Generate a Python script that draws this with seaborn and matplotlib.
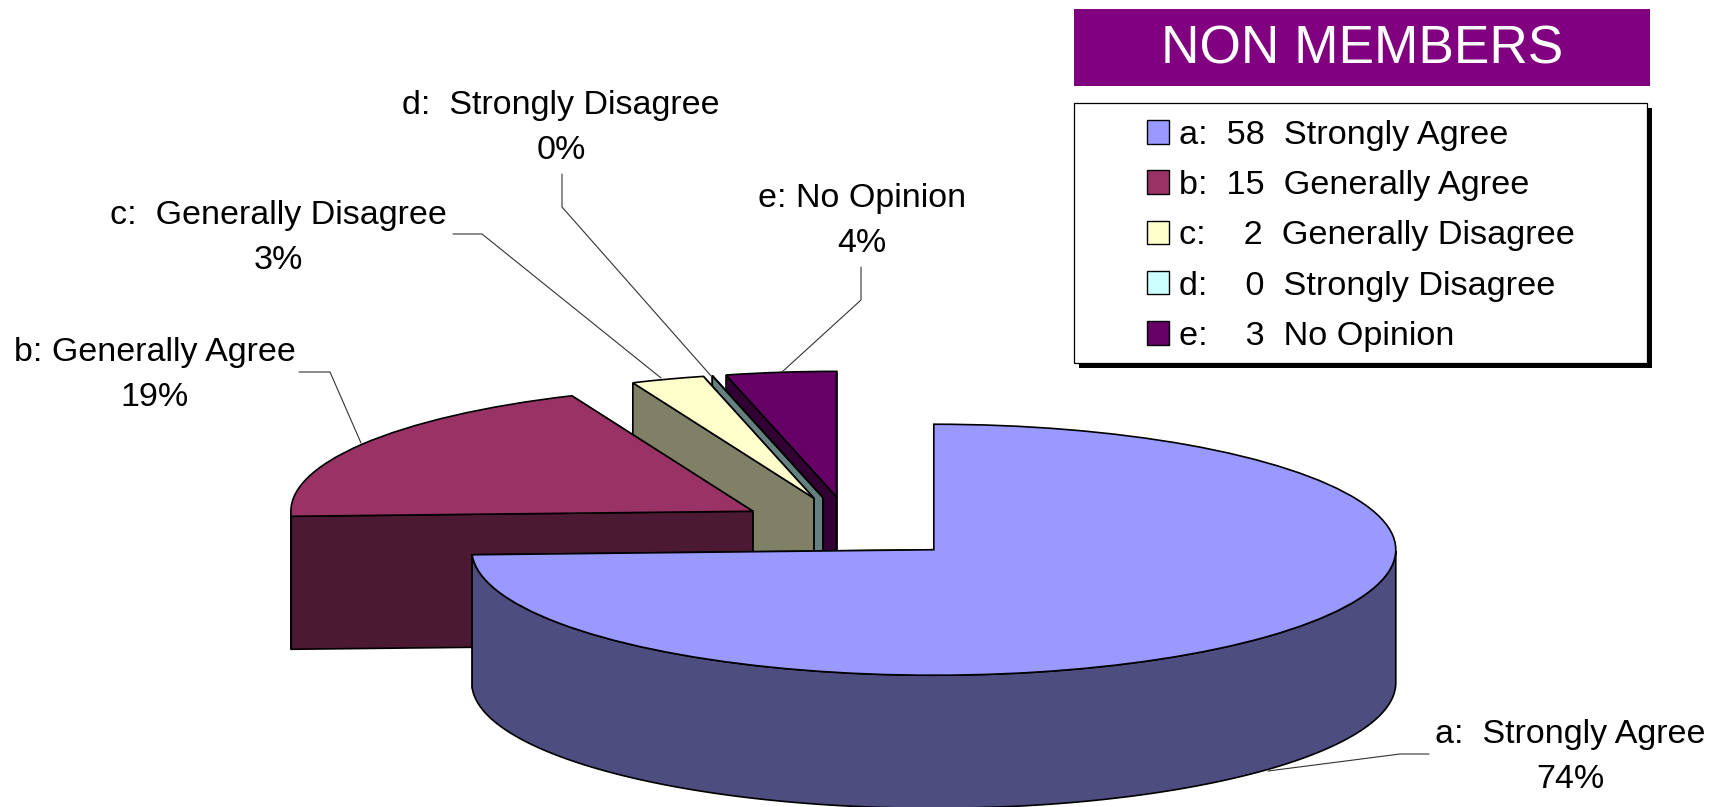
import numpy as np
import matplotlib
matplotlib.use("Agg")
import matplotlib.pyplot as plt
from matplotlib.patches import Rectangle
import seaborn as sns

sns.set_theme(style="white")
plt.rcParams['font.family'] = ['Liberation Sans', 'DejaVu Sans']

# survey counts
keys = ["a", "b", "c", "d", "e"]
answers = ["Strongly Agree", "Generally Agree", "Generally Disagree", "Strongly Disagree", "No Opinion"]
counts = [58, 15, 2, 0, 3]

top_colors = ["#9999FF", "#993366", "#FFFFCC", "#CCFFFF", "#660066"]
side_colors = ["#4D4D80", "#4C1933", "#808066", "#668080", "#330033"]

legend_labels = ["a:  58  Strongly Agree", "b:  15  Generally Agree", "c:    2  Generally Disagree",
                 "d:    0  Strongly Disagree", "e:    3  No Opinion"]
slice_names = ["a:  Strongly Agree", "b: Generally Agree", "c:  Generally Disagree",
               "d:  Strongly Disagree", "e: No Opinion"]

W, H = 1724, 807
# pie centre and radii in pixels, the pie is squashed by the axis scales
CX, CY, RX, RY = 850.5, 528, 462, 125.5
DEPTH = 133 / RY

fig = plt.figure(figsize=(W / 100, H / 100), dpi=100, facecolor="white")
ax = fig.add_axes([0, 0, 1, 1])
wedges, _ = ax.pie(counts, explode=[0.25] * len(counts), startangle=90, counterclock=False,
                   colors=top_colors, normalize=True,
                   wedgeprops=dict(edgecolor="black", linewidth=1.2))
ax.set_aspect("auto")
ax.set_xlim(-CX / RX, (W - CX) / RX)
ax.set_ylim(-(H - CY) / RY, CY / RY)
ax.axis("off")


def cut_face(w, theta):
    t = np.deg2rad(theta)
    x = w.center[0] + np.array([0, np.cos(t), np.cos(t), 0])
    y = w.center[1] + np.array([0, np.sin(t), np.sin(t) - DEPTH, -DEPTH])
    return x, y


# painter's order: back slices first, each one hidden faces first
for i in range(len(wedges) - 1, -1, -1):
    w = wedges[i]
    z = 10 + (len(wedges) - i) * 5
    for k, theta in enumerate([w.theta1, w.theta2]):
        x, y = cut_face(w, theta)
        ax.fill(x, y, facecolor=side_colors[i], edgecolor="black", linewidth=1.2, zorder=z + k)
    t = np.deg2rad(np.linspace(w.theta1, w.theta2, 400))
    t = t[np.sin(t) <= 0]
    if len(t) > 1:
        x = w.center[0] + np.cos(t)
        y = w.center[1] + np.sin(t)
        ax.fill(np.r_[x, x[::-1]], np.r_[y, y[::-1] - DEPTH], facecolor=side_colors[i],
                edgecolor="black", linewidth=1.2, zorder=z + 2)
    w.set_zorder(z + 3)

# second axes in pixel coordinates for title, legend box and labels
ov = fig.add_axes([0, 0, 1, 1], facecolor="none")
ov.set_xlim(0, W)
ov.set_ylim(H, 0)
ov.axis("off")

ov.add_patch(Rectangle((1074, 9), 576, 77, facecolor="#800080", edgecolor="none"))
ov.text(1362, 50, "NON MEMBERS", color="white", fontsize=38.3, ha="center", va="center")

ov.add_patch(Rectangle((1079, 108), 573, 260, facecolor="black", edgecolor="none"))
ov.add_patch(Rectangle((1074, 103), 573, 260, facecolor="white", edgecolor="black", linewidth=0.9))

leg = ov.legend(wedges, legend_labels, loc="upper left", bbox_to_anchor=(1147 / W, 1 - 120 / H),
                bbox_transform=ov.transAxes, frameon=False, fontsize=24.7, borderpad=0,
                borderaxespad=0, handlelength=0.65, handleheight=0.68, handletextpad=0.28,
                labelspacing=0.56, labelcolor="black")
for h in leg.legend_handles:
    h.set_linewidth(1.0)

# share labels and their leader lines
total = sum(counts)
label_pos = [(1570, 757), (155, 375), (278, 238), (561, 128), (862, 221)]
leaders = [
    [(1429, 754), (1400, 754), (1268, 771)],
    [(299, 372), (330, 372), (361, 443)],
    [(453, 234), (482, 234), (661, 378)],
    [(562, 174), (562, 207), (712, 377)],
    [(861, 267), (861, 300), (782, 372)],
]
for name, n, pos, line in zip(slice_names, counts, label_pos, leaders):
    ov.text(pos[0], pos[1], f"{name}\n{round(100 * n / total)}%", fontsize=24.5,
            ha="center", va="center", multialignment="center", linespacing=1.55, color="black")
    ov.plot([p[0] for p in line], [p[1] for p in line], color="#333333", linewidth=0.8)

sns.despine(ax=ov, left=True, bottom=True)
fig.savefig("out.png", dpi=100)
